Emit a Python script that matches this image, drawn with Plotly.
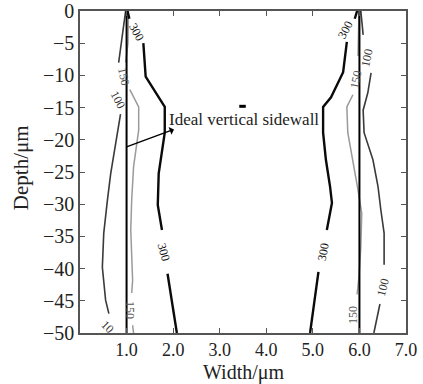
import plotly.graph_objects as go

# ---- data (Width in um, Depth in um) ----
ideal_left_x = [1.0, 1.0]
ideal_left_y = [0, -50]
ideal_right_x = [6.0, 6.0]
ideal_right_y = [0, -50]

c300_left_x = [1.02, 1.06, None, 1.36, 1.41, 1.82, 1.82, 1.69, 1.67, 1.76, None, 1.88, 2.08]
c300_left_y = [0, -1.2, None, -5.0, -10.2, -14.9, -18.9, -25.2, -30.1, -34.0, None, -40.8, -50]
c300_right_x = [5.95, 5.90, None, 5.73, 5.65, 5.39, 5.22, 5.22, 5.28, 5.37, 5.41, 5.30, None, 5.12, 4.94]
c300_right_y = [0, -1.2, None, -4.8, -9.5, -13.4, -14.9, -18.9, -23.1, -27.3, -29.8, -34.0, None, -40.5, -50]

c150_left_x = [1.04, 1.03, 0.98, None, 1.07, 1.26, 1.26, 1.15, 1.11, 1.09, 1.13, 1.11, None, 1.13, 1.15]
c150_left_y = [0, -5.0, -8.0, None, -12.2, -14.9, -18.5, -24.2, -29.3, -34.0, -41.8, -43.8, None, -48.8, -50]
c150_right_x = [5.99, 5.97, None, 5.86, 5.73, 5.75, 5.86, 5.97, 6.05, 6.03, 5.99, 5.95, None, 5.92]
c150_right_y = [0, -7.0, None, -13.0, -14.9, -18.9, -23.1, -27.8, -31.4, -36.6, -41.3, -44.0, None, -50]

c100_left_x = [0.98, 0.91, 0.83, None, 0.87, 0.78, 0.66, 0.59, 0.51, 0.48, 0.55, 0.62]
c100_left_y = [0, -3.4, -8.0, None, -16.0, -20.0, -25.2, -29.3, -34.5, -39.8, -44.9, -47.0]
c100_right_x = [6.03, 6.08, None, 6.25, 6.18, 6.08, 6.10, 6.29, 6.40, 6.46, 6.53, 6.53, None, 6.44, 6.31]
c100_right_y = [0, -3.7, None, -9.6, -12.7, -15.4, -18.9, -23.1, -27.3, -30.9, -34.5, -39.4, None, -45.5, -50]

blob_x = [3.42, 3.56]
blob_y = [-14.8, -14.8]

# contour labels: text, x, y, angle, colour
labels = [
    ("300", 1.22, -3.2, 62, "#111"),
    ("300", 1.80, -37.4, 75, "#111"),
    ("300", 5.69, -2.9, -62, "#111"),
    ("300", 5.22, -37.4, -80, "#111"),
    ("150", 0.95, -10.2, 78, "#555"),
    ("150", 1.07, -46.4, 90, "#555"),
    ("150", 5.92, -10.7, -78, "#555"),
    ("150", 5.86, -47.2, -90, "#555"),
    ("100", 0.82, -13.8, 62, "#333"),
    ("10", 0.60, -49.0, 45, "#333"),
    ("100", 6.16, -7.3, -78, "#333"),
    ("100", 6.51, -42.9, -75, "#333"),
]

x_ticks = [1, 2, 3, 4, 5, 6, 7]
x_ticktext = ["1.0", "2.0", "3.0", "4.0", "5.0", "6.0", "7.0"]
y_ticks = [0, -5, -10, -15, -20, -25, -30, -35, -40, -45, -50]

FONT = "Liberation Serif"

fig = go.Figure()

def add_line(x, y, color, width):
    fig.add_trace(go.Scatter(x=x, y=y, mode="lines", line=dict(color=color, width=width),
                             connectgaps=False, showlegend=False, hoverinfo="skip"))

add_line(c100_left_x, c100_left_y, "#3a3a3a", 1.6)
add_line(c100_right_x, c100_right_y, "#3a3a3a", 1.6)
add_line(c150_left_x, c150_left_y, "#9a9a9a", 1.5)
add_line(c150_right_x, c150_right_y, "#9a9a9a", 1.5)
add_line(ideal_left_x, ideal_left_y, "#000000", 2)
add_line(ideal_right_x, ideal_right_y, "#000000", 2)
add_line(c300_left_x, c300_left_y, "#0a0a0a", 2.4)
add_line(c300_right_x, c300_right_y, "#0a0a0a", 2.4)
add_line(blob_x, blob_y, "#000000", 3)

for t, x, y, ang, col in labels:
    fig.add_annotation(x=x, y=y, text=t, showarrow=False, textangle=ang,
                       font=dict(family=FONT, size=12, color=col))

# arrow pointing to the ideal sidewall
fig.add_annotation(x=1.0, y=-21.1, ax=2.05, ay=-18.3, axref="x", ayref="y",
                   text="", showarrow=True, arrowside="start", arrowhead=2,
                   arrowsize=1.3, arrowwidth=1.4, arrowcolor="#000")
fig.add_annotation(x=1.87, y=-16.9, text="Ideal vertical sidewall", showarrow=False,
                   xanchor="left", yanchor="middle",
                   font=dict(family=FONT, size=17, color="#222"))

# axis titles
fig.add_annotation(xref="paper", yref="paper", x=-0.181, y=0.515, text="Depth/μm",
                   textangle=-90, showarrow=False, xanchor="center", yanchor="middle",
                   font=dict(family=FONT, size=21, color="#222"))
fig.add_annotation(xref="paper", yref="paper", x=0.503, y=-0.123, text="Width/μm",
                   showarrow=False, xanchor="center", yanchor="middle",
                   font=dict(family=FONT, size=20, color="#222"))

axis_common = dict(showgrid=False, zeroline=False, showline=True, linecolor="#555",
                   linewidth=1.5, mirror="ticks", ticks="inside", ticklen=5,
                   tickcolor="#555", tickwidth=1, automargin=False)

fig.update_xaxes(range=[0, 7], tickvals=x_ticks, ticktext=x_ticktext,
                 tickfont=dict(family=FONT, size=18, color="#222"), **axis_common)
fig.update_yaxes(range=[-50, 0], tickvals=y_ticks,
                 tickfont=dict(family=FONT, size=20, color="#222"), **axis_common)

fig.update_layout(width=423, height=384, margin=dict(l=80, r=17, t=11, b=51),
                  plot_bgcolor="white", paper_bgcolor="white", showlegend=False)

fig.write_html("out.html")
